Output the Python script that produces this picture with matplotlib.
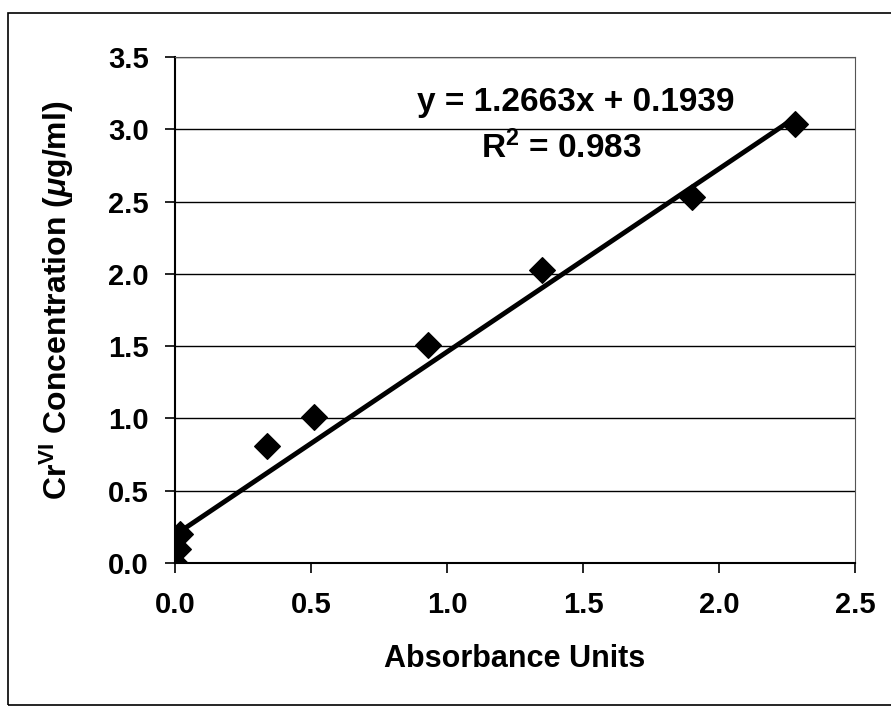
import numpy as np
import matplotlib
matplotlib.use("Agg")
import matplotlib.pyplot as plt
from matplotlib.patches import Rectangle

plt.rcParams['font.family'] = ['Liberation Sans', 'DejaVu Sans']
plt.rcParams['font.weight'] = 'bold'
plt.rcParams['mathtext.fontset'] = 'custom'
plt.rcParams['mathtext.rm'] = 'Liberation Sans:bold'
plt.rcParams['mathtext.it'] = 'Liberation Sans:italic:bold'
plt.rcParams['mathtext.bf'] = 'Liberation Sans:bold'

# data
absorbance = [0.0, 0.01, 0.02, 0.34, 0.51, 0.93, 1.35, 1.90, 2.28]
conc = [0.0, 0.1, 0.2, 0.81, 1.01, 1.51, 2.03, 2.53, 3.04]
slope = 1.2663
intercept = 0.1939
r2 = 0.983
x_ticks = [0.0, 0.5, 1.0, 1.5, 2.0, 2.5]
y_ticks = [0.0, 0.5, 1.0, 1.5, 2.0, 2.5, 3.0, 3.5]

fig = plt.figure(figsize=(8.91, 7.19), dpi=100)
# outer chart frame
fig.patches.append(Rectangle((0.009, 0.02), 1.2, 0.962, transform=fig.transFigure,
                             fill=False, edgecolor='black', linewidth=1.2))

ax = fig.add_axes([0.1964, 0.2170, 0.7632, 0.7037])
ax.set_xlim(0, 2.5)
ax.set_ylim(0, 3.5)
ax.set_xticks(x_ticks)
ax.set_yticks(y_ticks)
ax.set_xticklabels([f'{v:.1f}' for v in x_ticks])
ax.set_yticklabels([f'{v:.1f}' for v in y_ticks])
ax.tick_params(axis='both', direction='out', length=7, width=1.2, labelsize=21)
ax.tick_params(axis='y', pad=12)
ax.tick_params(axis='x', pad=13)
ax.yaxis.grid(True, color='black', linewidth=1.0)
ax.set_axisbelow(True)

for s in ['left', 'bottom']:
    ax.spines[s].set_linewidth(1.5)
for s in ['top', 'right']:
    ax.spines[s].set_linewidth(0.8)
    ax.spines[s].set_color('#555555')

xf = np.array([0.0, max(absorbance)])
ax.plot(xf, slope * xf + intercept, color='black', linewidth=3.5, zorder=3)
ax.scatter(absorbance, conc, marker='D', s=170, color='black', zorder=4)

ax.text(0.590, 0.911, f'y = {slope}x + {intercept}', transform=ax.transAxes,
        ha='center', va='center', fontsize=24, fontweight='bold')
ax.text(0.568, 0.820, r'R$^2$ = ' + f'{r2}', transform=ax.transAxes,
        ha='center', va='center', fontsize=24, fontweight='bold')

ax.set_xlabel('Absorbance Units', fontsize=22, fontweight='bold')
ax.xaxis.set_label_coords(0.50, -0.16)
ax.set_ylabel(r'Cr$^{\mathrm{VI}}$ Concentration ($\mu$g/ml)', fontsize=23,
              fontweight='bold')
ax.yaxis.set_label_coords(-0.146, 0.52)

fig.savefig('out.png', dpi=100)
